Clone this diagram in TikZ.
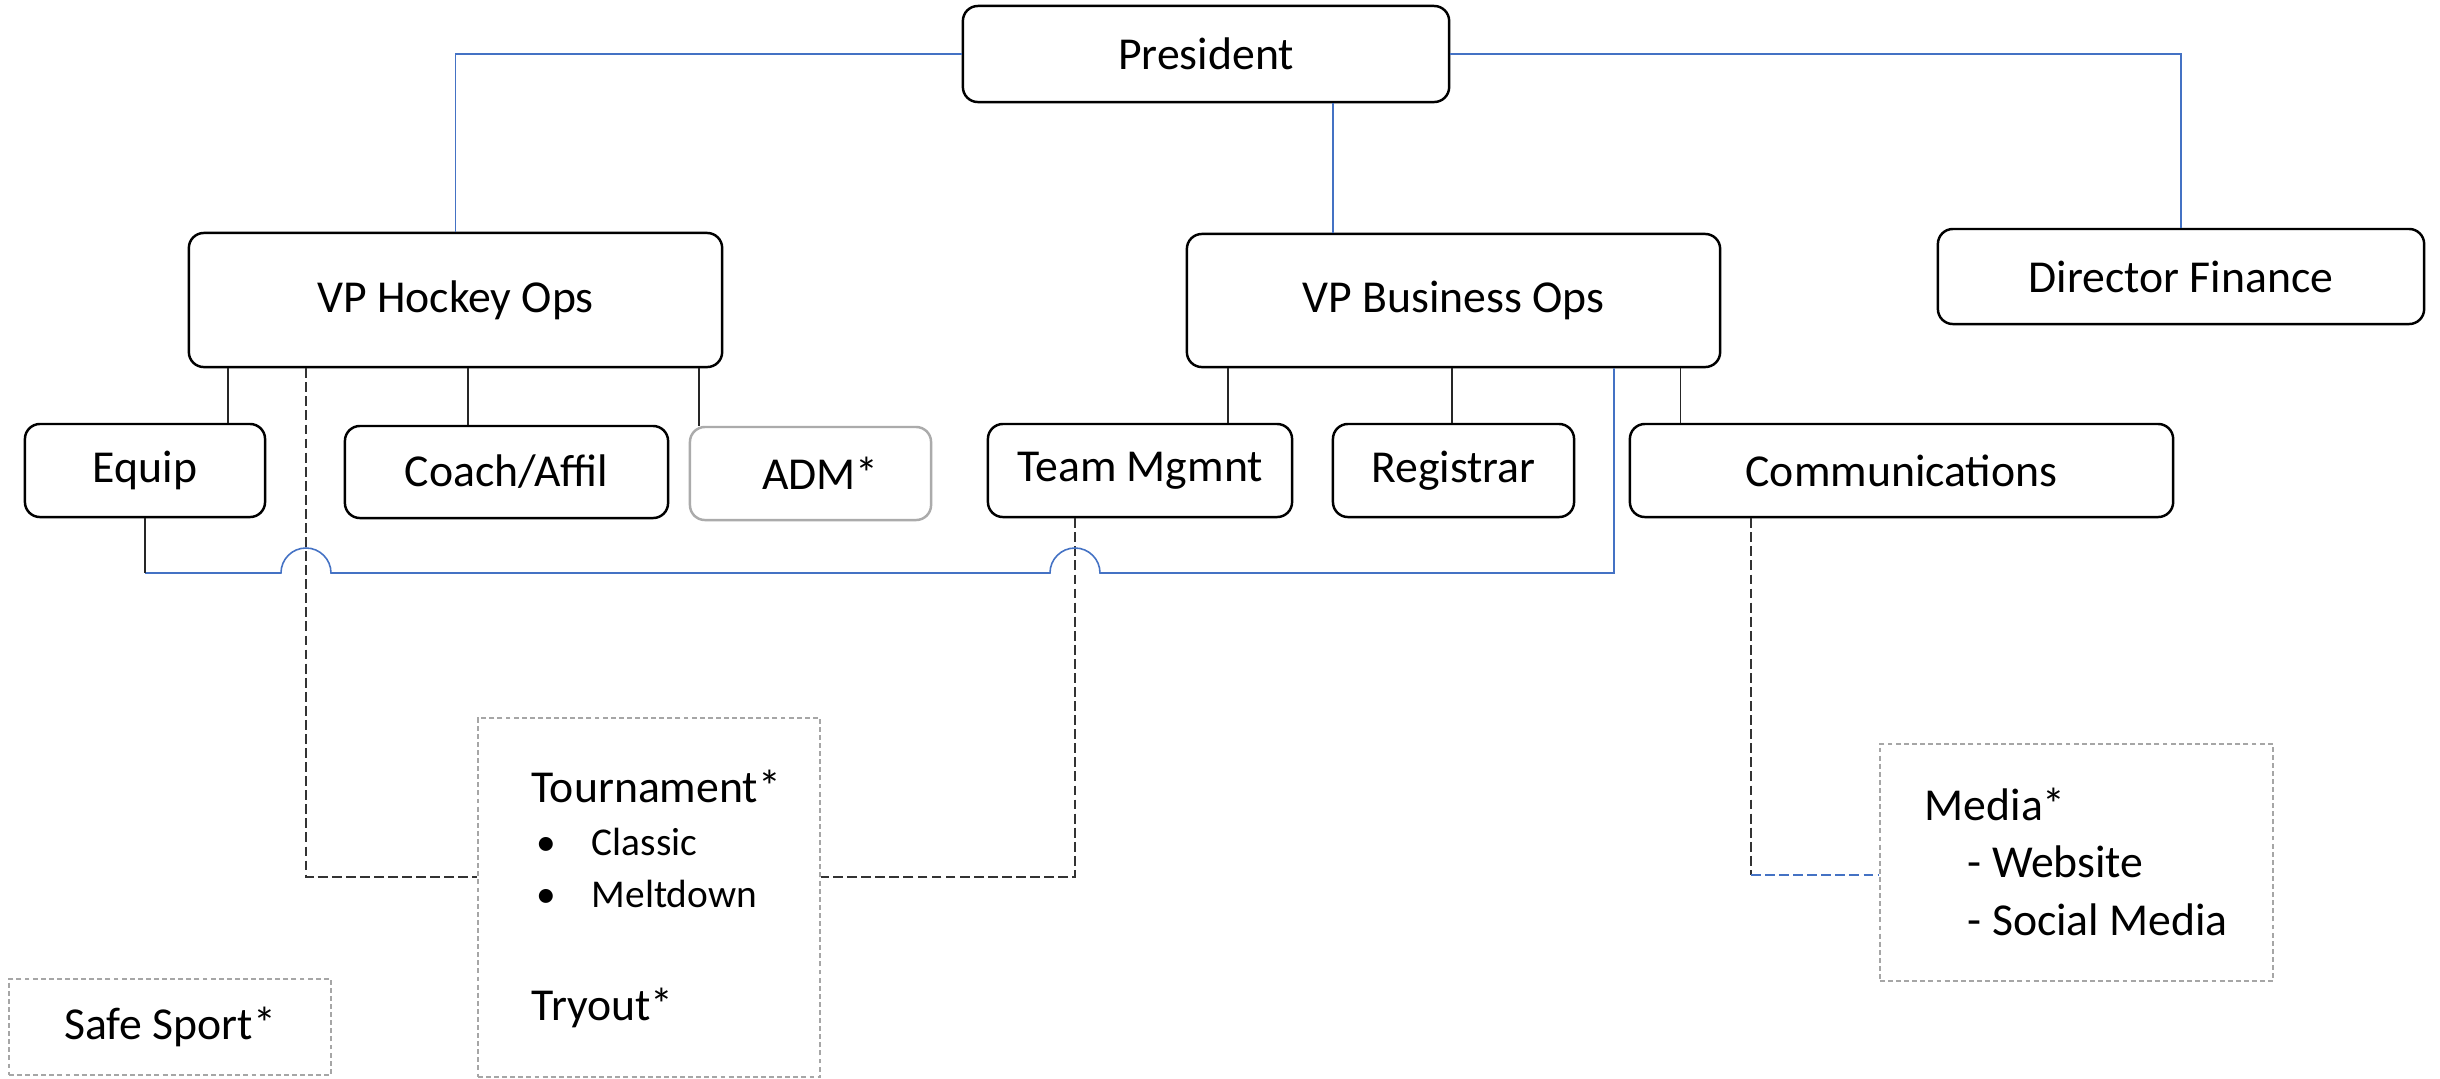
\documentclass[tikz,border=0pt]{standalone}
\usepackage{fontspec}
\setmainfont{Carlito}
\usepackage{tikz}
\usetikzlibrary{scopes}

\definecolor{linkblue}{RGB}{68,114,196}

\tikzset{
    role/.style={draw, line width=0.7pt, rounded corners=0.15cm, inner sep=0pt, font=\fontsize{13}{15}\selectfont},
    faded/.style={role, draw=black!33},
    adhoc/.style={draw=black!35, line width=0.55pt, dash pattern=on 1.4pt off 0.9pt, inner sep=0pt, font=\fontsize{13}{15}\selectfont},
    entry/.style={anchor=base west, inner sep=0pt, font=\fontsize{13}{15}\selectfont},
    subentry/.style={anchor=base west, inner sep=0pt, font=\fontsize{11.2}{13}\selectfont},
    link/.style={line width=0.3pt, black!85},
    bluelink/.style={line width=0.45pt, linkblue},
    dashlink/.style={line width=0.4pt, black!80, dash pattern=on 2.8pt off 1.2pt}
}

\begin{document}
\begin{tikzpicture}[x=0.01cm, y=-0.01cm]
        \useasboundingbox (0,0) rectangle (2440,1078);
        \node [role, minimum width=4.86cm, minimum height=0.96cm] (pres) at (1206, 54) {President};
        \node [role, minimum width=5.33cm, minimum height=1.34cm] (hockey) at (455.5, 300) {VP Hockey Ops};
        \node [role, minimum width=5.33cm, minimum height=1.33cm] (biz) at (1453.5, 300.5) {VP Business Ops};
        \node [role, minimum width=4.86cm, minimum height=0.95cm] (finance) at (2181, 276.5) {Director Finance};
        \node [role, minimum width=2.40cm, minimum height=0.93cm] (equip) at (145, 470.5) {Equip};
        \node [role, minimum width=3.23cm, minimum height=0.92cm] (coach) at (506.5, 472) {Coach/Affil};
        \node [faded, minimum width=2.41cm, minimum height=0.93cm] (adm) at (810.5, 473.5) {\hspace{0.2cm}ADM*};
        \node [role, minimum width=3.04cm, minimum height=0.93cm] (team) at (1140, 470.5) {Team Mgmnt};
        \node [role, minimum width=2.41cm, minimum height=0.93cm] (registrar) at (1453.5, 470.5) {Registrar};
        \node [role, minimum width=5.43cm, minimum height=0.93cm] (comms) at (1901.5, 470.5) {Communications};
        \node [adhoc, minimum width=3.42cm, minimum height=3.59cm] (tourn) at (649, 897.5) {};
        \node [adhoc, minimum width=3.93cm, minimum height=2.37cm] (media) at (2076.5, 862.5) {};
        \node [adhoc, minimum width=3.22cm, minimum height=0.96cm] (safe) at (170, 1027) {Safe Sport*};
        \node [entry] (tname) at (531, 802) {Tournament*};
        \node [subentry] (classic) at (536, 855) {\makebox[0.55cm][l]{•}Classic};
        \node [subentry] (meltdown) at (536, 907) {\makebox[0.55cm][l]{•}Meltdown};
        \node [entry] (tryout) at (531, 1020) {Tryout*};
        \node [entry] (mname) at (1924, 820) {Media*};
        \node [entry] (website) at (1967, 877) {- Website};
        \node [entry] (social) at (1967, 935) {- Social Media};
        \coordinate (mediatap) at (1751, 875);
        \draw [bluelink] (pres.west) -| (hockey.north);
        \draw [bluelink] (pres.east) -| (finance.north);
        \draw [bluelink] (pres.south -| 1333,0) -- (biz.north -| 1333,0);
        \foreach \x/\c in {228/equip, 468/coach, 699/adm}
            \draw [link] (hockey.south -| \x,0) -- (\c.north -| \x,0);
        \foreach \x/\c in {1228/team, 1452/registrar, 1680/comms}
            \draw [link] (biz.south -| \x,0) -- (\c.north -| \x,0);
        \draw [dashlink] (hockey.south -| 306,0) |- (tourn.west |- 0,877);
        \draw [dashlink] (team.south -| 1075,0) |- (tourn.east |- 0,877);
        \draw [dashlink] (comms.south -| mediatap) -- (mediatap);
        \draw [dashlink, linkblue] (mediatap) -- (media.west |- mediatap);
        \draw [bluelink] (biz.south -| 1614,0) -- (1614, 573) -- (1100, 573)
            arc [start angle=0, end angle=180, radius=0.25cm] -- (331, 573)
            arc [start angle=0, end angle=180, radius=0.25cm] -- (145, 573);
        \draw [link] (equip.south) -- (equip.south |- 0,573);
\end{tikzpicture}
\end{document}
